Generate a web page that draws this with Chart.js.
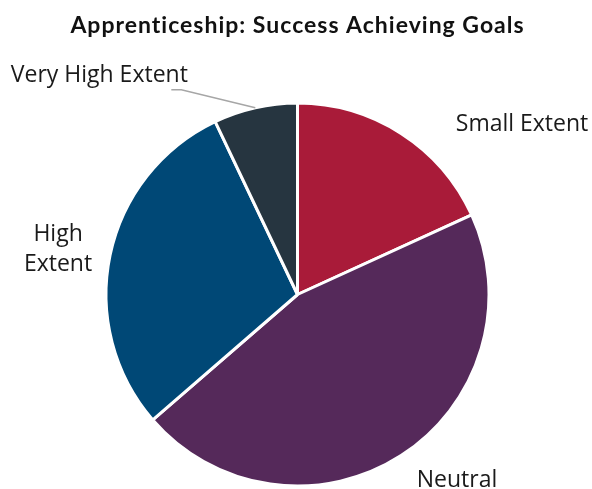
<!DOCTYPE html>
<html>
<head>
<meta charset="utf-8">
<script src="https://cdn.jsdelivr.net/npm/chart.js@4"></script>
<style>
  html, body { margin: 0; padding: 0; background: #fff; }
  #wrap { width: 592px; height: 489px; }
</style>
</head>
<body>
<div id="wrap"><canvas id="pie"></canvas></div>
<script>
const titleText = "Apprenticeship: Success Achieving Goals";
const categories = ["Small Extent", "Neutral", "High Extent", "Very High Extent"];
const responses = [18, 45, 29, 7];
const sliceColors = ["#A91B39", "#55295A", "#004876", "#263540"];

// where each label sits, relative to the outer edge at the middle of its slice
const labelLayout = [
  { lines: ["Small Extent"], dx: 121, dy: -9 },
  { lines: ["Neutral"], dx: 56, dy: 25 },
  { lines: ["High", "Extent"], dx: -52, dy: -6 },
  { lines: ["Very High Extent"], dx: -156, dy: -32, leader: true }
];

const FONT = "'Open Sans', Lato, sans-serif";
const TITLE_FONT = "Lato, 'Open Sans', sans-serif";

// slightly wider title lettering
const titleSpacing = {
  id: "titleSpacing",
  beforeDraw(chart) {
    chart.ctx.letterSpacing = "1px";
  }
};

const outsideLabels = {
  id: "outsideLabels",
  afterDatasetsDraw(chart) {
    const ctx = chart.ctx;
    const arcs = chart.getDatasetMeta(0).data;
    ctx.save();
    ctx.letterSpacing = "0px";
    ctx.font = "23px " + FONT;
    ctx.fillStyle = "#1a1a1a";
    ctx.textAlign = "center";
    ctx.textBaseline = "middle";
    arcs.forEach((arc, i) => {
      const p = arc.getProps(["x", "y", "startAngle", "endAngle", "outerRadius"], true);
      const mid = (p.startAngle + p.endAngle) / 2;
      const ex = p.x + Math.cos(mid) * p.outerRadius;
      const ey = p.y + Math.sin(mid) * p.outerRadius;
      const lay = labelLayout[i];
      const cx = ex + lay.dx;
      const cy = ey + lay.dy;
      const lh = 30;
      lay.lines.forEach((ln, k) => {
        ctx.fillText(ln, cx, cy + (k - (lay.lines.length - 1) / 2) * lh);
      });
      if (lay.leader) {
        ctx.strokeStyle = "#a6a6a6";
        ctx.lineWidth = 1.5;
        ctx.beginPath();
        ctx.moveTo(ex, ey);
        ctx.lineTo(cx + 82, cy + 14);
        ctx.lineTo(cx + 72, cy + 14);
        ctx.stroke();
      }
    });
    ctx.restore();
  }
};

new Chart(document.getElementById("pie"), {
  type: "pie",
  data: {
    labels: categories,
    datasets: [{
      data: responses,
      backgroundColor: sliceColors,
      borderColor: "#ffffff",
      borderWidth: 3
    }]
  },
  options: {
    responsive: true,
    maintainAspectRatio: false,
    animation: false,
    radius: 191.5,
    layout: { padding: { top: 0, left: 3, right: 0, bottom: 0 } },
    plugins: {
      legend: { display: false },
      tooltip: { enabled: false },
      title: {
        display: true,
        text: titleText,
        color: "#111111",
        font: { family: TITLE_FONT, size: 23, weight: "bold", lineHeight: 1.2 },
        padding: { top: 12, bottom: 60.4 }
      }
    }
  },
  plugins: [titleSpacing, outsideLabels]
});
</script>
</body>
</html>
